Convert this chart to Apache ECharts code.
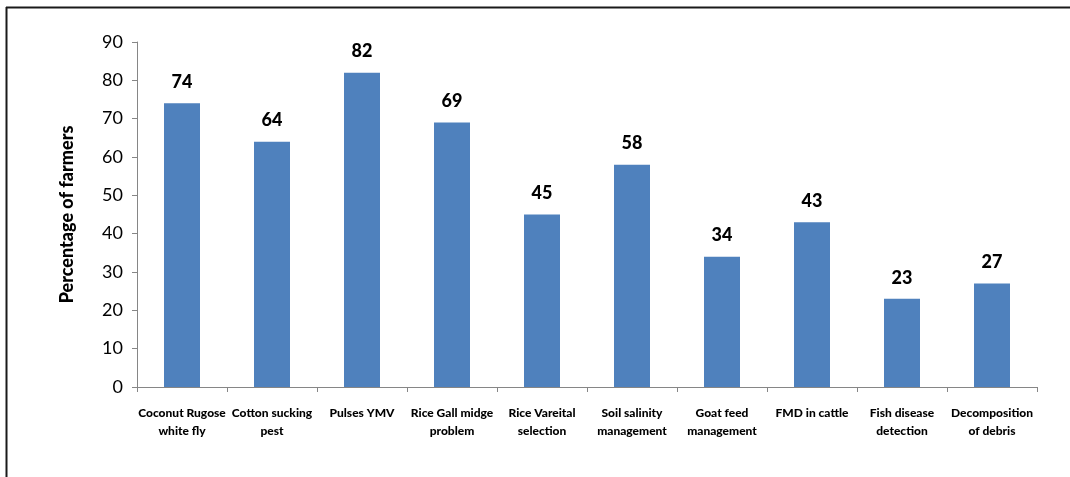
<!DOCTYPE html>
<html>
<head>
<meta charset="utf-8">
<script src="https://cdn.jsdelivr.net/npm/echarts@6/dist/echarts.min.js"></script>
<style>
html,body{margin:0;padding:0;background:#fff;}
#c{width:1070px;height:477px;}
</style>
</head>
<body>
<div id="c"></div>
<script>
const categories = [
  "Coconut Rugose\nwhite fly",
  "Cotton sucking\npest",
  "Pulses YMV",
  "Rice Gall midge\nproblem",
  "Rice Vareital\nselection",
  "Soil salinity\nmanagement",
  "Goat feed\nmanagement",
  "FMD in cattle",
  "Fish disease\ndetection",
  "Decomposition\nof debris"
];
const values = [74, 64, 82, 69, 45, 58, 34, 43, 23, 27];
const yAxisTitle = "Percentage of farmers";
const yMin = 0, yMax = 90, yStep = 10;

const font = "Lato, 'Open Sans', sans-serif";
const chart = echarts.init(document.getElementById('c'), null, {renderer: 'canvas'});
chart.setOption({
  animation: false,
  backgroundColor: '#ffffff',
  grid: {left: 137, right: 33, top: 42, bottom: 90, containLabel: false},
  xAxis: {
    type: 'category',
    data: categories,
    axisLine: {lineStyle: {color: '#868686', width: 1}},
    axisTick: {show: true, length: 5, lineStyle: {color: '#868686'}},
    axisLabel: {
      interval: 0, margin: 17, color: '#000', fontFamily: font,
      fontWeight: 900, fontSize: 12, lineHeight: 18
    }
  },
  yAxis: {
    type: 'value', min: yMin, max: yMax, interval: yStep,
    name: yAxisTitle, nameLocation: 'middle', nameGap: 61,
    nameTextStyle: {fontFamily: font, fontWeight: 900, fontSize: 18, color: '#000'},
    axisLine: {show: true, lineStyle: {color: '#868686', width: 1}},
    axisTick: {show: true, length: 5, lineStyle: {color: '#868686'}},
    splitLine: {show: false},
    axisLabel: {color: '#000', fontFamily: font, fontSize: 18, margin: 14}
  },
  series: [{
    type: 'bar',
    data: values,
    barWidth: 36,
    itemStyle: {color: '#4F81BD'},
    label: {
      show: true, position: 'top', distance: 12,
      color: '#000', fontFamily: font, fontWeight: 900, fontSize: 18
    }
  }],
  graphic: [
    {type: 'line', shape: {x1: 6, y1: 7.5, x2: 1070, y2: 7.5}, style: {stroke: '#1a1a1a', lineWidth: 2}, silent: true},
    {type: 'line', shape: {x1: 6.5, y1: 7, x2: 6.5, y2: 477}, style: {stroke: '#1a1a1a', lineWidth: 2}, silent: true}
  ]
});
</script>
</body>
</html>
